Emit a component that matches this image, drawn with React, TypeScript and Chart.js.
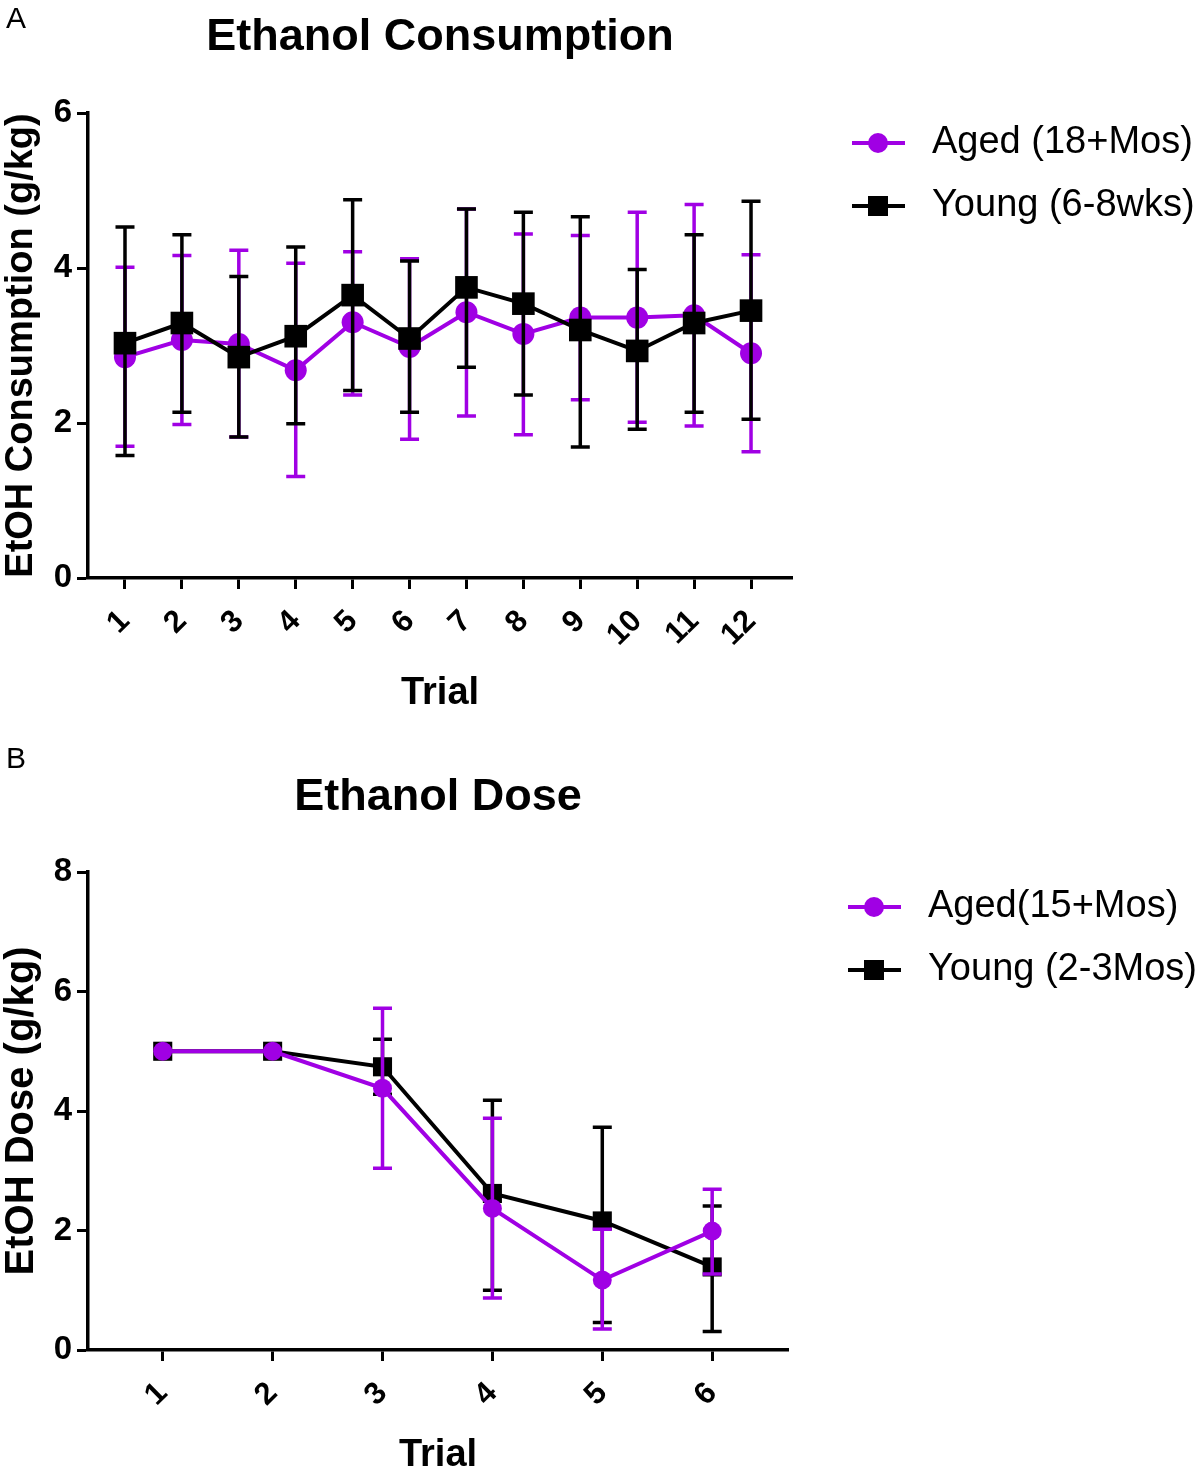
import React, { useEffect, useRef } from "react";
import { Chart, registerables } from "chart.js";

Chart.register(...registerables);

// ---------- Panel A data ----------
const trialsA = [1, 2, 3, 4, 5, 6, 7, 8, 9, 10, 11, 12];
const trialLabelsA = ["1", "2", "3", "4", "5", "6", "7", "8", "9", "10", "11", "12"];
const agedA = [2.85, 3.07, 3.02, 2.68, 3.3, 2.98, 3.43, 3.15, 3.36, 3.36, 3.39, 2.9];
const agedALow = [1.7, 1.98, 1.82, 1.31, 2.36, 1.79, 2.09, 1.85, 2.3, 2.01, 1.96, 1.63];
const agedAHigh = [4.01, 4.16, 4.23, 4.06, 4.21, 4.12, 4.76, 4.44, 4.42, 4.72, 4.82, 4.17];
const youngA = [3.03, 3.29, 2.85, 3.12, 3.65, 3.09, 3.75, 3.54, 3.2, 2.93, 3.29, 3.45];
const youngALow = [1.58, 2.14, 1.82, 1.99, 2.42, 2.14, 2.72, 2.36, 1.69, 1.92, 2.14, 2.05];
const youngAHigh = [4.53, 4.43, 3.89, 4.27, 4.88, 4.09, 4.76, 4.72, 4.66, 3.98, 4.43, 4.86];
const yTicksA = [0, 2, 4, 6];

// ---------- Panel B data ----------
const trialsB = [1, 2, 3, 4, 5, 6];
const trialLabelsB = ["1", "2", "3", "4", "5", "6"];
const agedB = [5.0, 5.0, 4.38, 2.37, 1.17, 1.99];
const agedBLow = [null, null, 3.04, 0.87, 0.35, 1.27];
const agedBHigh = [null, null, 5.72, 3.88, 2.02, 2.69];
const youngB = [5.0, 5.0, 4.74, 2.62, 2.16, 1.39];
const youngBLow = [null, null, 4.28, 1.0, 0.46, 0.31];
const youngBHigh = [null, null, 5.2, 4.18, 3.73, 2.41];
const yTicksB = [0, 2, 4, 6, 8];

const PURPLE = "rgb(160, 0, 228)";
const BLACK = "#000000";
const FONT = "'Liberation Sans', Arial, Helvetica, sans-serif";

const errorBarPlugin = {
  id: "errorBars",
  beforeDatasetDraw(chart: any, args: any) {
    const ds = chart.data.datasets[args.index];
    if (!ds.errLow) return;
    const ctx = chart.ctx;
    const xs = chart.scales.x;
    const ys = chart.scales.y;
    ctx.save();
    ctx.strokeStyle = ds.borderColor;
    ctx.lineWidth = 3.5;
    ctx.lineCap = "butt";
    ds.data.forEach((pt: any, i: number) => {
      const lo = ds.errLow[i];
      const hi = ds.errHigh[i];
      if (lo == null || hi == null) return;
      const x = xs.getPixelForValue(pt.x);
      const yl = ys.getPixelForValue(lo);
      const yh = ys.getPixelForValue(hi);
      ctx.beginPath();
      ctx.moveTo(x, yl);
      ctx.lineTo(x, yh);
      ctx.moveTo(x - 9.5, yl);
      ctx.lineTo(x + 9.5, yl);
      ctx.moveTo(x - 9.5, yh);
      ctx.lineTo(x + 9.5, yh);
      ctx.stroke();
    });
    ctx.restore();
  },
};

const decorPlugin = {
  id: "decor",
  afterDraw(chart: any) {
    const o = chart.options.plugins.decor;
    if (!o) return;
    const ctx = chart.ctx;
    const ca = chart.chartArea;
    ctx.save();
    ctx.fillStyle = "#000";
    // panel letter
    ctx.font = `30px ${FONT}`;
    ctx.textAlign = "left";
    ctx.textBaseline = "middle";
    ctx.fillText(o.letter, 6, o.letterY);
    // title
    ctx.font = `bold 45px ${FONT}`;
    ctx.textAlign = "center";
    ctx.fillText(o.title, (ca.left + ca.right) / 2, o.titleY);
    // x title
    ctx.font = `bold 38px ${FONT}`;
    ctx.fillText(o.xTitle, (ca.left + ca.right) / 2, o.xTitleY);
    // y title
    ctx.save();
    ctx.translate(22, (ca.top + ca.bottom) / 2);
    ctx.rotate(-Math.PI / 2);
    ctx.font = `bold ${o.yTitleSize}px ${FONT}`;
    ctx.fillText(o.yTitle, 0, 0);
    ctx.restore();
    // legend
    const items = o.legendOrder.map((idx: number) => chart.data.datasets[idx]);
    items.forEach((ds: any, k: number) => {
      const y = ca.top + o.legendTop + k * o.legendGap;
      const x0 = ca.right + 60;
      ctx.strokeStyle = ds.borderColor;
      ctx.lineWidth = 4;
      ctx.beginPath();
      ctx.moveTo(x0, y);
      ctx.lineTo(x0 + 53, y);
      ctx.stroke();
      ctx.fillStyle = ds.borderColor;
      if (ds.pointStyle === "rect") {
        ctx.fillRect(x0 + 26 - 10, y - 10, 20, 20);
      } else {
        ctx.beginPath();
        ctx.arc(x0 + 26, y, 10, 0, Math.PI * 2);
        ctx.fill();
      }
      ctx.fillStyle = "#000";
      ctx.font = `38px ${FONT}`;
      ctx.textAlign = "left";
      ctx.textBaseline = "middle";
      ctx.fillText(ds.label, x0 + o.legendTextDx, y);
    });
    ctx.restore();
  },
};

function makeDataset(
  label: string,
  xs: number[],
  ys: number[],
  lo: (number | null)[],
  hi: (number | null)[],
  color: string,
  style: string,
  radius: number,
  order: number
) {
  return {
    label,
    data: xs.map((x, i) => ({ x, y: ys[i] })),
    errLow: lo,
    errHigh: hi,
    borderColor: color,
    backgroundColor: color,
    borderWidth: 4,
    pointStyle: style,
    pointRadius: radius,
    pointHoverRadius: radius,
    pointBorderWidth: 0,
    pointBackgroundColor: color,
    tension: 0,
    order,
    clip: false as any,
  };
}

function buildConfig(p: {
  trials: number[];
  labels: string[];
  yTicks: number[];
  xMin: number;
  xMax: number;
  datasets: any[];
  padding: any;
  yWidth: number;
  xHeight: number;
  decor: any;
}) {
  return {
    type: "line" as const,
    data: { datasets: p.datasets },
    plugins: [errorBarPlugin, decorPlugin],
    options: {
      responsive: false,
      animation: false as const,
      devicePixelRatio: 1,
      layout: { padding: p.padding },
      plugins: {
        legend: { display: false },
        title: { display: false },
        tooltip: { enabled: false },
        decor: p.decor,
      },
      scales: {
        x: {
          type: "linear" as const,
          min: p.xMin,
          max: p.xMax,
          afterBuildTicks: (s: any) => {
            s.ticks = p.trials.map((v) => ({ value: v }));
          },
          afterFit: (s: any) => {
            s.height = p.xHeight;
          },
          ticks: {
            autoSkip: false,
            minRotation: 45,
            maxRotation: 45,
            padding: 14,
            color: "#000",
            font: { family: FONT, size: 31, weight: "bold" as const },
            callback: (v: any) => {
              const i = p.trials.indexOf(v);
              return i >= 0 ? p.labels[i] : "";
            },
          },
          grid: {
            drawOnChartArea: false,
            drawTicks: true,
            tickLength: 11,
            tickWidth: 3,
            tickColor: "#000",
          },
          border: { display: true, width: 3.5, color: "#000" },
        },
        y: {
          type: "linear" as const,
          min: p.yTicks[0],
          max: p.yTicks[p.yTicks.length - 1],
          afterBuildTicks: (s: any) => {
            s.ticks = p.yTicks.map((v) => ({ value: v }));
          },
          afterFit: (s: any) => {
            s.width = p.yWidth;
          },
          ticks: {
            padding: 5,
            color: "#000",
            font: { family: FONT, size: 33, weight: "bold" as const },
          },
          grid: {
            drawOnChartArea: false,
            drawTicks: true,
            tickLength: 11,
            tickWidth: 3,
            tickColor: "#000",
          },
          border: { display: true, width: 3.5, color: "#000" },
        },
      },
    },
  };
}

function ChartCanvas({ config, width, height }: { config: any; width: number; height: number }) {
  const ref = useRef<HTMLCanvasElement | null>(null);
  useEffect(() => {
    if (!ref.current) return;
    const chart = new Chart(ref.current, config);
    return () => chart.destroy();
  }, [config]);
  return <canvas ref={ref} width={width} height={height} style={{ display: "block", width, height }} />;
}

const configA = buildConfig({
  trials: trialsA,
  labels: trialLabelsA,
  yTicks: yTicksA,
  xMin: 0.35,
  xMax: 12.72,
  datasets: [
    makeDataset("Aged (18+Mos)", trialsA, agedA, agedALow, agedAHigh, PURPLE, "circle", 11, 2),
    makeDataset("Young (6-8wks)", trialsA, youngA, youngALow, youngAHigh, BLACK, "rect", 16, 1),
  ],
  padding: { left: 0, right: 408, top: 113, bottom: 0 },
  yWidth: 88,
  xHeight: 740 - 578,
  decor: {
    letter: "A",
    letterY: 20,
    title: "Ethanol Consumption",
    titleY: 38,
    xTitle: "Trial",
    xTitleY: 694,
    yTitle: "EtOH Consumption (g/kg)",
    yTitleSize: 38,
    legendOrder: [0, 1],
    legendTop: 30,
    legendGap: 63,
    legendTextDx: 80,
  },
});

const configB = buildConfig({
  trials: trialsB,
  labels: trialLabelsB,
  yTicks: yTicksB,
  xMin: 0.32,
  xMax: 6.69,
  datasets: [
    makeDataset("Aged(15+Mos)", trialsB, agedB, agedBLow, agedBHigh, PURPLE, "circle", 9.5, 1),
    makeDataset("Young (2-3Mos)", trialsB, youngB, youngBLow, youngBHigh, BLACK, "rect", 13.5, 2),
  ],
  padding: { left: 0, right: 412, top: 132, bottom: 0 },
  yWidth: 88,
  xHeight: 733 - 610,
  decor: {
    letter: "B",
    letterY: 20,
    title: "Ethanol Dose",
    titleY: 58,
    xTitle: "Trial",
    xTitleY: 716,
    yTitle: "EtOH Dose (g/kg)",
    yTitleSize: 40,
    legendOrder: [0, 1],
    legendTop: 35,
    legendGap: 63,
    legendTextDx: 80,
  },
});

export default function App() {
  return (
    <div style={{ position: "absolute", left: 0, top: 0, width: 1200, height: 1473, background: "#fff" }}>
      <ChartCanvas config={configA} width={1200} height={740} />
      <ChartCanvas config={configB} width={1200} height={733} />
    </div>
  );
}
